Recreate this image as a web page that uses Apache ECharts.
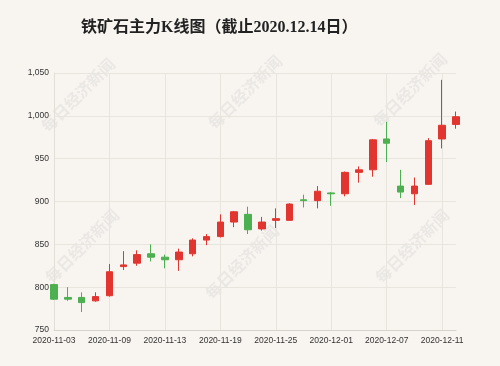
<!DOCTYPE html>
<html>
<head>
<meta charset="utf-8">
<script src="https://cdn.jsdelivr.net/npm/echarts@6/dist/echarts.min.js"></script>
<style>
html,body{margin:0;padding:0;background:#f8f5f1;}
#c{width:500px;height:366px;}
</style>
</head>
<body>
<div id="c"></div>
<script>
var dates = ['2020-11-03','2020-11-04','2020-11-05','2020-11-06','2020-11-09','2020-11-10','2020-11-11','2020-11-12','2020-11-13','2020-11-16','2020-11-17','2020-11-18','2020-11-19','2020-11-20','2020-11-23','2020-11-24','2020-11-25','2020-11-26','2020-11-27','2020-11-30','2020-12-01','2020-12-02','2020-12-03','2020-12-04','2020-12-07','2020-12-08','2020-12-09','2020-12-10','2020-12-11','2020-12-14'];
var openVals  = [803,788,788,784,790,824,828,839,835,832,839,855,859,876,885,868,878,878,902,901,910,909,934,937,973,918,909,920,973,990];
var closeVals = [786,786,782,789,818,826,838,835,832,841,855,859,876,888,867,876,880,897,901,912,909,934,937,972,968,911,918,971,989,999];
var lowVals   = [785,784,771,783,789,820,825,830,822,819,836,849,858,870,862,866,869,878,893,892,895,906,922,929,946,904,896,920,962,985];
var highVals  = [804,800,794,794,827,842,843,850,838,845,857,862,885,889,894,882,892,898,908,918,911,935,941,973,993,937,928,974,1042,1005];
var yTicks = [750, 800, 850, 900, 950, 1000, 1050];

var kdata = dates.map(function(d, i){ return [openVals[i], closeVals[i], lowVals[i], highVals[i]]; });

var wmPos = [[78,95],[245,92],[410,90],[82,246],[242,262],[412,246]];
var graphics = wmPos.map(function(p){
  return {type:'text', x:p[0], y:p[1], rotation:Math.PI/4, z:0, silent:true,
    style:{text:'每日经济新闻', fontSize:16, fontWeight:'bold', fontFamily:'Noto Sans CJK SC',
      fill:'rgba(120,120,120,0.10)', align:'center', verticalAlign:'middle'}};
});

var chart = echarts.init(document.getElementById('c'), null, {renderer:'canvas'});
chart.setOption({
  backgroundColor:'#f8f5f1',
  animation:false,
  title:{text:'铁矿石主力K线图（截止2020.12.14日）', left:76, top:15,
    textStyle:{fontSize:16, fontWeight:'bold', color:'#222', fontFamily:"'Liberation Serif','Noto Sans CJK SC'"}},
  graphic: graphics,
  grid:{left:54, right:44, top:73, bottom:36},
  xAxis:{type:'category', data:dates, boundaryGap:false,
    axisLine:{lineStyle:{color:'#d6d2cc'}},
    axisTick:{show:false},
    axisLabel:{interval:3, fontSize:8.5, color:'#333', fontFamily:'Liberation Sans, Arial', margin:6},
    splitLine:{show:true, interval:3, lineStyle:{color:'#e8e4de'}}},
  yAxis:{type:'value', min:yTicks[0], max:yTicks[yTicks.length-1], interval:50,
    axisLine:{show:true, lineStyle:{color:'#e2ded8'}},
    axisTick:{show:false},
    axisLabel:{fontSize:8.5, color:'#333', fontFamily:'Liberation Sans, Arial', margin:5,
      formatter:function(v){ return v.toLocaleString('en-US'); }},
    splitLine:{lineStyle:{color:'#e8e4de'}}},
  series:[{type:'candlestick', data:kdata, barWidth:7,
    itemStyle:{color:'#e2352f', color0:'#4caf50', borderColor:'#e2352f', borderColor0:'#4caf50', borderWidth:1}}]
});
</script>
</body>
</html>
